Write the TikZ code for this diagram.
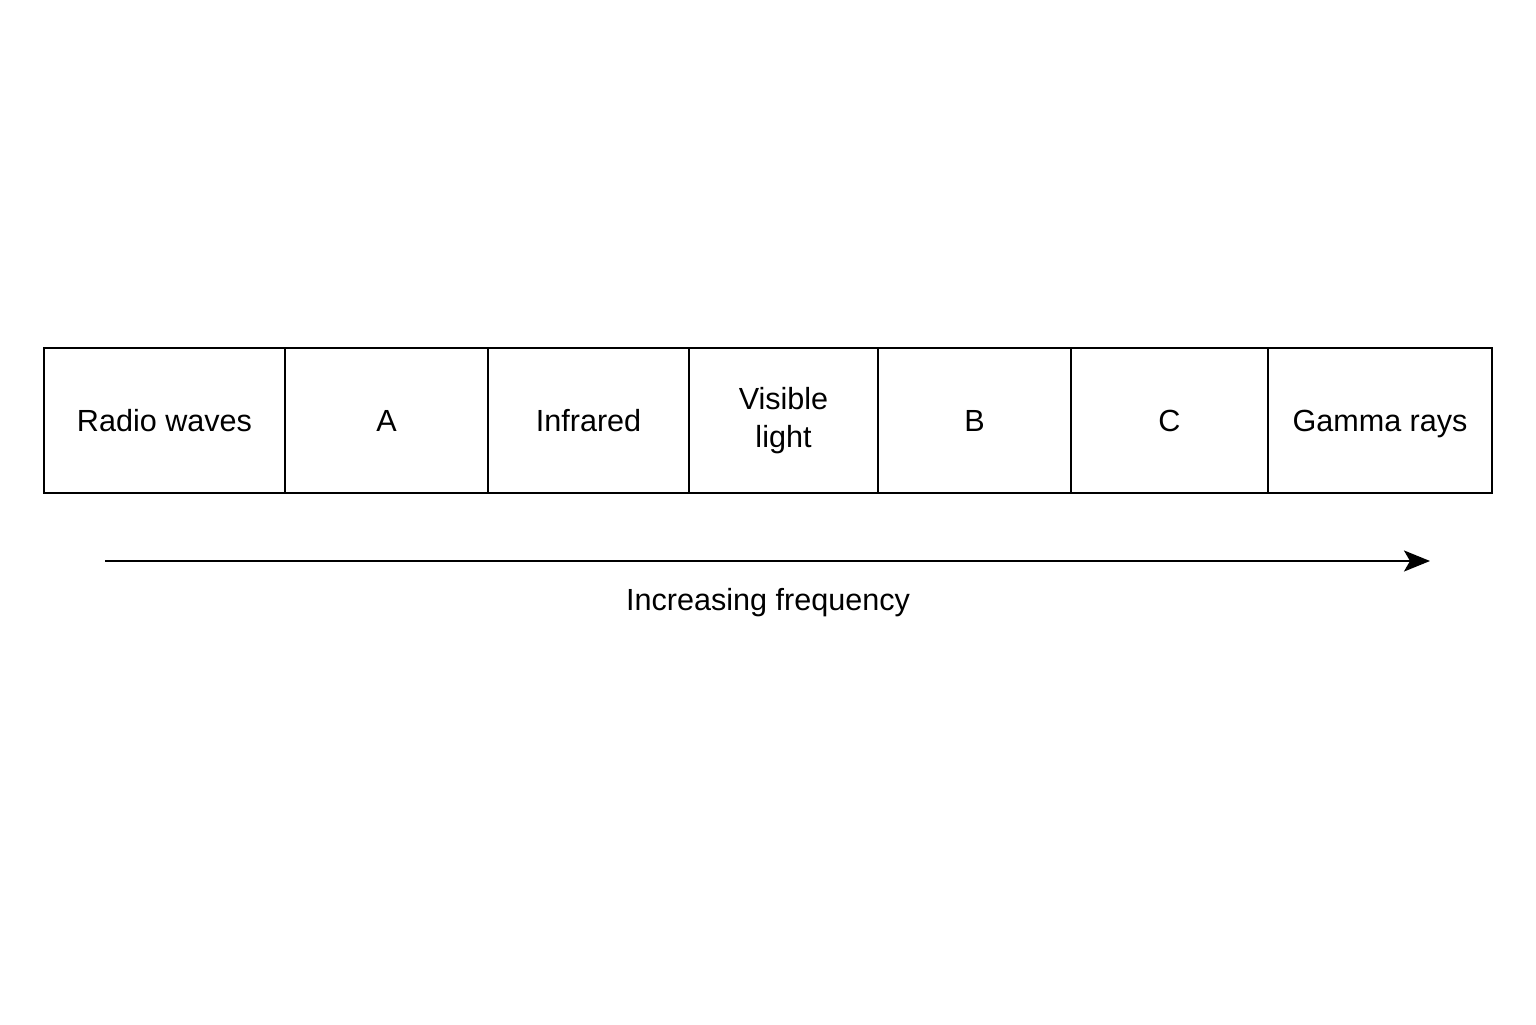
\documentclass[tikz,border=0pt]{standalone}
\usepackage{fontspec}
\setmainfont{Liberation Sans}
\usepackage{tikz}
\usetikzlibrary{calc}
\usetikzlibrary{arrows.meta}
\usetikzlibrary{positioning}
\tikzset{>=latex}
\tikzstyle{band} = [rectangle, draw=black, line width=0.7pt, minimum height=1.45cm, inner sep=0pt, outer sep=0pt, align=center, font=\fontsize{8.7}{11.4}\selectfont]
\tikzstyle{word} = [text height=1.6ex, text depth=0.45ex]

\begin{document}
\begin{tikzpicture}
\useasboundingbox (0,0) rectangle (15.36,10.24);
\node [band, word, minimum width=2.41cm] (R) at (1.645, 6.035) {Radio waves};
\node [band, word, minimum width=2.03cm] (A) at (3.865, 6.035) {A};
\node [band, word, minimum width=2.01cm] (I) at (5.885, 6.035) {Infrared};
\node [band, minimum width=1.89cm] (V) at (7.835, 6.035) {Visible\\[-0.5pt]light};
\node [band, word, minimum width=1.93cm] (B) at (9.745, 6.035) {B};
\node [band, word, minimum width=1.97cm] (C) at (11.695, 6.035) {C};
\node [band, word, minimum width=2.24cm] (G) at (13.80, 6.035) {Gamma rays};
\coordinate (S) at (1.05, 4.63);
\coordinate (E) at (14.30, 4.63);
\draw [-{Stealth[length=0.26cm, width=0.21cm, inset=0.06cm]}, line width=0.7pt] (S) to (E);
\node [word, font=\fontsize{8.7}{11.4}\selectfont] (F) at (7.68, 4.24) {Increasing frequency};
\end{tikzpicture}
\end{document}
